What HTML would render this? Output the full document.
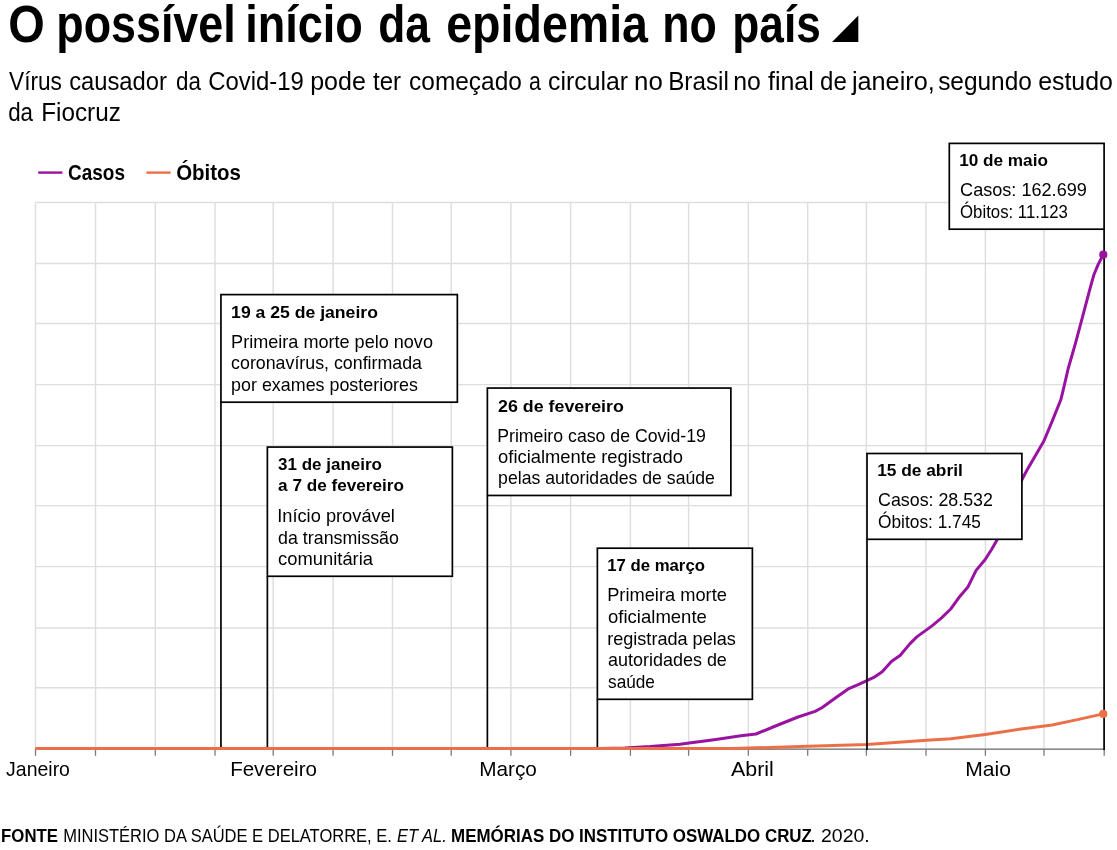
<!DOCTYPE html>
<html lang="pt-BR"><head><meta charset="utf-8"><title>O possível início da epidemia no país</title>
<style>html,body{margin:0;padding:0;background:#fff;}body{width:1117px;height:850px;position:relative;overflow:hidden;font-family:"Liberation Sans",sans-serif;}svg{will-change:transform;}svg g.txt{filter:grayscale(1);}</style>
</head><body>
<svg width="1117" height="850" viewBox="0 0 1117 850" style="position:absolute;left:0;top:0;display:block">
<rect width="1117" height="850" fill="#fff"/>
<g stroke="#dedede" stroke-width="1.45" fill="none">
<line x1="35.50" y1="202.40" x2="35.50" y2="748.90"/>
<line x1="95.50" y1="202.40" x2="95.50" y2="748.90"/>
<line x1="155.30" y1="202.40" x2="155.30" y2="748.90"/>
<line x1="215.00" y1="202.40" x2="215.00" y2="748.90"/>
<line x1="273.20" y1="202.40" x2="273.20" y2="748.90"/>
<line x1="333.10" y1="202.40" x2="333.10" y2="748.90"/>
<line x1="392.50" y1="202.40" x2="392.50" y2="748.90"/>
<line x1="451.20" y1="202.40" x2="451.20" y2="748.90"/>
<line x1="510.90" y1="202.40" x2="510.90" y2="748.90"/>
<line x1="570.60" y1="202.40" x2="570.60" y2="748.90"/>
<line x1="630.40" y1="202.40" x2="630.40" y2="748.90"/>
<line x1="688.60" y1="202.40" x2="688.60" y2="748.90"/>
<line x1="748.30" y1="202.40" x2="748.30" y2="748.90"/>
<line x1="807.70" y1="202.40" x2="807.70" y2="748.90"/>
<line x1="866.40" y1="202.40" x2="866.40" y2="748.90"/>
<line x1="926.00" y1="202.40" x2="926.00" y2="748.90"/>
<line x1="985.40" y1="202.40" x2="985.40" y2="748.90"/>
<line x1="1044.00" y1="202.40" x2="1044.00" y2="748.90"/>
<line x1="1104.20" y1="202.40" x2="1104.20" y2="748.90"/>
<line x1="35.50" y1="202.50" x2="1104.20" y2="202.50"/>
<line x1="35.50" y1="263.50" x2="1104.20" y2="263.50"/>
<line x1="35.50" y1="323.50" x2="1104.20" y2="323.50"/>
<line x1="35.50" y1="384.60" x2="1104.20" y2="384.60"/>
<line x1="35.50" y1="445.60" x2="1104.20" y2="445.60"/>
<line x1="35.50" y1="505.60" x2="1104.20" y2="505.60"/>
<line x1="35.50" y1="566.60" x2="1104.20" y2="566.60"/>
<line x1="35.50" y1="627.90" x2="1104.20" y2="627.90"/>
<line x1="35.50" y1="687.70" x2="1104.20" y2="687.70"/>
<line x1="35.50" y1="748.60" x2="1104.20" y2="748.60"/>
</g>
<line x1="35.50" y1="749.2" x2="1104.20" y2="749.2" stroke="#8a8a8a" stroke-width="1.4"/>
<g stroke="#7a7a7a" stroke-width="1.3">
<line x1="35.50" y1="749" x2="35.50" y2="755.8"/>
<line x1="95.50" y1="749" x2="95.50" y2="755.8"/>
<line x1="155.30" y1="749" x2="155.30" y2="755.8"/>
<line x1="215.00" y1="749" x2="215.00" y2="755.8"/>
<line x1="273.20" y1="749" x2="273.20" y2="755.8"/>
<line x1="333.10" y1="749" x2="333.10" y2="755.8"/>
<line x1="392.50" y1="749" x2="392.50" y2="755.8"/>
<line x1="451.20" y1="749" x2="451.20" y2="755.8"/>
<line x1="510.90" y1="749" x2="510.90" y2="755.8"/>
<line x1="570.60" y1="749" x2="570.60" y2="755.8"/>
<line x1="630.40" y1="749" x2="630.40" y2="755.8"/>
<line x1="688.60" y1="749" x2="688.60" y2="755.8"/>
<line x1="748.30" y1="749" x2="748.30" y2="755.8"/>
<line x1="807.70" y1="749" x2="807.70" y2="755.8"/>
<line x1="866.40" y1="749" x2="866.40" y2="755.8"/>
<line x1="926.00" y1="749" x2="926.00" y2="755.8"/>
<line x1="985.40" y1="749" x2="985.40" y2="755.8"/>
<line x1="1044.00" y1="749" x2="1044.00" y2="755.8"/>
<line x1="1104.20" y1="749" x2="1104.20" y2="755.8"/>
</g>
<g stroke="#000" stroke-width="1.7">
<line x1="220.95" y1="402.25" x2="220.95" y2="748"/>
<line x1="267.37" y1="576.3" x2="267.37" y2="748"/>
<line x1="487.37" y1="495.45" x2="487.37" y2="748"/>
<line x1="597.37" y1="699.26" x2="597.37" y2="748"/>
</g>
<path d="M560.0,748.5 L600.0,748.4 L625.0,748.0 L650.1,746.6 L680.2,744.2 L687.3,743.3 L714.1,739.8 L741.0,735.7 L756.0,734.0 L775.5,726.0 L798.0,717.0 L815.1,711.4 L821.9,707.7 L835.7,697.7 L848.2,688.9 L858.2,684.6 L867.4,680.4 L873.8,677.4 L882.2,671.7 L891.4,661.5 L900.3,655.2 L909.8,643.9 L916.8,636.9 L932.0,625.9 L941.6,617.9 L950.7,609.0 L959.6,596.7 L968.1,586.7 L976.1,570.4 L985.0,559.8 L991.4,549.7 L997.3,539.5 L1010.0,503.0 L1022.4,478.8 L1026.9,470.3 L1043.9,441.0 L1052.3,420.9 L1060.8,399.8 L1063.9,387.1 L1068.2,368.5 L1075.3,343.8 L1082.4,317.4 L1089.4,290.9 L1093.8,275.0 L1098.2,264.4 L1103.2,254.7" fill="none" stroke="#9912a0" stroke-width="3" stroke-linejoin="round" stroke-linecap="round"/>
<path d="M35.2,748.5 L732.0,748.5 L808.0,746.3 L866.9,744.4 L926.7,740.2 L950.9,738.8 L985.4,734.4 L1021.1,729.1 L1052.1,725.0 L1076.3,719.9 L1103.2,713.9" fill="none" stroke="#eb7048" stroke-width="3" stroke-linejoin="round" stroke-linecap="butt"/>
<g stroke="#000" stroke-width="1.7">
<line x1="867.0" y1="539.25" x2="867.0" y2="750"/>
<line x1="1104.1" y1="229.2" x2="1104.1" y2="750"/>
</g>
<circle cx="1103.3" cy="254.7" r="4.1" fill="#9912a0"/>
<circle cx="1103.3" cy="713.9" r="4.1" fill="#eb7048"/>
<g stroke="#000" stroke-width="1.7" fill="#fff">
<rect x="220.95" y="294.6" width="236.4" height="107.6"/>
<rect x="267.37" y="447.07" width="185.0" height="129.2"/>
<rect x="487.37" y="388.07" width="243.5" height="107.4"/>
<rect x="597.37" y="548.2" width="155.0" height="151.1"/>
<rect x="867.0" y="453.5" width="154.9" height="85.8"/>
<rect x="949.3" y="143.4" width="154.8" height="85.8"/>
</g>
<line x1="38.2" y1="172.6" x2="62.4" y2="172.6" stroke="#9912a0" stroke-width="2.4"/>
<line x1="146.4" y1="172.6" x2="170.6" y2="172.6" stroke="#eb7048" stroke-width="2.4"/>
<path d="M832.1,41.9 L858.3,41.9 L858.3,15.4 Z" fill="#000"/>
<g class="txt" font-family="'Liberation Sans', sans-serif" fill="#000">
<text id="t0" x="8.2" y="42.0" font-size="51" font-weight="bold" font-style="normal" stroke="#fff" stroke-width="0" textLength="36.55" lengthAdjust="spacingAndGlyphs">O</text>
<text id="t1" x="56.36" y="42.0" font-size="51" font-weight="bold" font-style="normal" stroke="#fff" stroke-width="0" textLength="179.3" lengthAdjust="spacingAndGlyphs">possível</text>
<text id="t2" x="245.31" y="42.0" font-size="51" font-weight="bold" font-style="normal" stroke="#fff" stroke-width="0" textLength="117.54" lengthAdjust="spacingAndGlyphs">início</text>
<text id="t3" x="378.23" y="42.0" font-size="51" font-weight="bold" font-style="normal" stroke="#fff" stroke-width="0" textLength="51.76" lengthAdjust="spacingAndGlyphs">da</text>
<text id="t4" x="446.24" y="42.0" font-size="51" font-weight="bold" font-style="normal" stroke="#fff" stroke-width="0" textLength="201.78" lengthAdjust="spacingAndGlyphs">epidemia</text>
<text id="t5" x="662.28" y="42.0" font-size="51" font-weight="bold" font-style="normal" stroke="#fff" stroke-width="0" textLength="54.56" lengthAdjust="spacingAndGlyphs">no</text>
<text id="t6" x="732.35" y="42.0" font-size="51" font-weight="bold" font-style="normal" stroke="#fff" stroke-width="0" textLength="88.45" lengthAdjust="spacingAndGlyphs">país</text>
<text id="t7" x="9.03" y="89.5" font-size="25.5" font-weight="normal" font-style="normal" stroke="#fff" stroke-width="0" textLength="52.89" lengthAdjust="spacingAndGlyphs">Vírus</text>
<text id="t8" x="69.17" y="89.5" font-size="25.5" font-weight="normal" font-style="normal" stroke="#fff" stroke-width="0" textLength="97.8" lengthAdjust="spacingAndGlyphs">causador</text>
<text id="t9" x="176.07" y="89.5" font-size="25.5" font-weight="normal" font-style="normal" stroke="#fff" stroke-width="0" textLength="24.89" lengthAdjust="spacingAndGlyphs">da</text>
<text id="t10" x="208.16" y="89.5" font-size="25.5" font-weight="normal" font-style="normal" stroke="#fff" stroke-width="0" textLength="95.7" lengthAdjust="spacingAndGlyphs">Covid-19</text>
<text id="t11" x="310.21" y="89.5" font-size="25.5" font-weight="normal" font-style="normal" stroke="#fff" stroke-width="0" textLength="55.67" lengthAdjust="spacingAndGlyphs">pode</text>
<text id="t12" x="373.03" y="89.5" font-size="25.5" font-weight="normal" font-style="normal" stroke="#fff" stroke-width="0" textLength="27.96" lengthAdjust="spacingAndGlyphs">ter</text>
<text id="t13" x="409.09" y="89.5" font-size="25.5" font-weight="normal" font-style="normal" stroke="#fff" stroke-width="0" textLength="112.78" lengthAdjust="spacingAndGlyphs">começado</text>
<text id="t14" x="529.05" y="89.5" font-size="25.5" font-weight="normal" font-style="normal" stroke="#fff" stroke-width="0" textLength="11.88" lengthAdjust="spacingAndGlyphs">a</text>
<text id="t15" x="548.08" y="89.5" font-size="25.5" font-weight="normal" font-style="normal" stroke="#fff" stroke-width="0" textLength="79.89" lengthAdjust="spacingAndGlyphs">circular</text>
<text id="t16" x="634.13" y="89.5" font-size="25.5" font-weight="normal" font-style="normal" stroke="#fff" stroke-width="0" textLength="28.7" lengthAdjust="spacingAndGlyphs">no</text>
<text id="t17" x="668.19" y="89.5" font-size="25.5" font-weight="normal" font-style="normal" stroke="#fff" stroke-width="0" textLength="60.59" lengthAdjust="spacingAndGlyphs">Brasil</text>
<text id="t18" x="733.2" y="89.5" font-size="25.5" font-weight="normal" font-style="normal" stroke="#fff" stroke-width="0" textLength="27.64" lengthAdjust="spacingAndGlyphs">no</text>
<text id="t19" x="768.01" y="89.5" font-size="25.5" font-weight="normal" font-style="normal" stroke="#fff" stroke-width="0" textLength="45.79" lengthAdjust="spacingAndGlyphs">final</text>
<text id="t20" x="820.1" y="89.5" font-size="25.5" font-weight="normal" font-style="normal" stroke="#fff" stroke-width="0" textLength="26.72" lengthAdjust="spacingAndGlyphs">de</text>
<text id="t21" x="851.92" y="89.5" font-size="25.5" font-weight="normal" font-style="normal" stroke="#fff" stroke-width="0" textLength="82.81" lengthAdjust="spacingAndGlyphs">janeiro,</text>
<text id="t22" x="938.17" y="89.5" font-size="25.5" font-weight="normal" font-style="normal" stroke="#fff" stroke-width="0" textLength="93.7" lengthAdjust="spacingAndGlyphs">segundo</text>
<text id="t23" x="1038.15" y="89.5" font-size="25.5" font-weight="normal" font-style="normal" stroke="#fff" stroke-width="0" textLength="74.68" lengthAdjust="spacingAndGlyphs">estudo</text>
<text id="t24" x="8.13" y="121.3" font-size="25.5" font-weight="normal" font-style="normal" stroke="#fff" stroke-width="0" textLength="24.83" lengthAdjust="spacingAndGlyphs">da</text>
<text id="t25" x="41.21" y="121.3" font-size="25.5" font-weight="normal" font-style="normal" stroke="#fff" stroke-width="0" textLength="79.67" lengthAdjust="spacingAndGlyphs">Fiocruz</text>
<text id="t26" x="68.09" y="179.6" font-size="21.3" font-weight="bold" font-style="normal" stroke="#fff" stroke-width="0" textLength="56.88" lengthAdjust="spacingAndGlyphs">Casos</text>
<text id="t27" x="176.14" y="179.6" font-size="21.3" font-weight="bold" font-style="normal" stroke="#fff" stroke-width="0" textLength="64.73" lengthAdjust="spacingAndGlyphs">Óbitos</text>
<text id="t28" x="231.11" y="317.6" font-size="17.4" font-weight="bold" font-style="normal" stroke="#fff" stroke-width="0" textLength="146.8" lengthAdjust="spacingAndGlyphs">19 a 25 de janeiro</text>
<text id="t29" x="231.11" y="347.8" font-size="17.8" font-weight="normal" font-style="normal" stroke="#fff" stroke-width="0" textLength="201.86" lengthAdjust="spacingAndGlyphs">Primeira morte pelo novo</text>
<text id="t30" x="231.11" y="369.3" font-size="17.8" font-weight="normal" font-style="normal" stroke="#fff" stroke-width="0" textLength="190.87" lengthAdjust="spacingAndGlyphs">coronavírus, confirmada</text>
<text id="t31" x="231.11" y="390.9" font-size="17.8" font-weight="normal" font-style="normal" stroke="#fff" stroke-width="0" textLength="186.81" lengthAdjust="spacingAndGlyphs">por exames posteriores</text>
<text id="t32" x="278.11" y="470.3" font-size="17.4" font-weight="bold" font-style="normal" stroke="#fff" stroke-width="0" textLength="103.79" lengthAdjust="spacingAndGlyphs">31 de janeiro</text>
<text id="t33" x="278.11" y="491.4" font-size="17.4" font-weight="bold" font-style="normal" stroke="#fff" stroke-width="0" textLength="125.8" lengthAdjust="spacingAndGlyphs">a 7 de fevereiro</text>
<text id="t34" x="277.21" y="521.9" font-size="17.8" font-weight="normal" font-style="normal" stroke="#fff" stroke-width="0" textLength="117.67" lengthAdjust="spacingAndGlyphs">Início provável</text>
<text id="t35" x="278.11" y="543.5" font-size="17.8" font-weight="normal" font-style="normal" stroke="#fff" stroke-width="0" textLength="120.78" lengthAdjust="spacingAndGlyphs">da transmissão</text>
<text id="t36" x="278.11" y="565.1" font-size="17.8" font-weight="normal" font-style="normal" stroke="#fff" stroke-width="0" textLength="94.9" lengthAdjust="spacingAndGlyphs">comunitária</text>
<text id="t37" x="498.09" y="411.5" font-size="17.4" font-weight="bold" font-style="normal" stroke="#fff" stroke-width="0" textLength="125.8" lengthAdjust="spacingAndGlyphs">26 de fevereiro</text>
<text id="t38" x="497.19" y="441.5" font-size="17.8" font-weight="normal" font-style="normal" stroke="#fff" stroke-width="0" textLength="208.67" lengthAdjust="spacingAndGlyphs">Primeiro caso de Covid-19</text>
<text id="t39" x="498.09" y="462.7" font-size="17.8" font-weight="normal" font-style="normal" stroke="#fff" stroke-width="0" textLength="184.8" lengthAdjust="spacingAndGlyphs">oficialmente registrado</text>
<text id="t40" x="498.09" y="484.3" font-size="17.8" font-weight="normal" font-style="normal" stroke="#fff" stroke-width="0" textLength="216.84" lengthAdjust="spacingAndGlyphs">pelas autoridades de saúde</text>
<text id="t41" x="607.17" y="571.4" font-size="17.4" font-weight="bold" font-style="normal" stroke="#fff" stroke-width="0" textLength="97.79" lengthAdjust="spacingAndGlyphs">17 de março</text>
<text id="t42" x="607.17" y="601.3" font-size="17.8" font-weight="normal" font-style="normal" stroke="#fff" stroke-width="0" textLength="119.77" lengthAdjust="spacingAndGlyphs">Primeira morte</text>
<text id="t43" x="608.07" y="622.8" font-size="17.8" font-weight="normal" font-style="normal" stroke="#fff" stroke-width="0" textLength="98.8" lengthAdjust="spacingAndGlyphs">oficialmente</text>
<text id="t44" x="607.17" y="644.5" font-size="17.8" font-weight="normal" font-style="normal" stroke="#fff" stroke-width="0" textLength="128.72" lengthAdjust="spacingAndGlyphs">registrada pelas</text>
<text id="t45" x="608.07" y="665.9" font-size="17.8" font-weight="normal" font-style="normal" stroke="#fff" stroke-width="0" textLength="118.81" lengthAdjust="spacingAndGlyphs">autoridades de</text>
<text id="t46" x="608.07" y="687.5" font-size="17.8" font-weight="normal" font-style="normal" stroke="#fff" stroke-width="0" textLength="46.87" lengthAdjust="spacingAndGlyphs">saúde</text>
<text id="t47" x="877.15" y="476.4" font-size="17.4" font-weight="bold" font-style="normal" stroke="#fff" stroke-width="0" textLength="85.68" lengthAdjust="spacingAndGlyphs">15 de abril</text>
<text id="t48" x="878.05" y="506.4" font-size="17.8" font-weight="normal" font-style="normal" stroke="#fff" stroke-width="0" textLength="114.89" lengthAdjust="spacingAndGlyphs">Casos: 28.532</text>
<text id="t49" x="878.05" y="528.3" font-size="17.8" font-weight="normal" font-style="normal" stroke="#fff" stroke-width="0" textLength="102.88" lengthAdjust="spacingAndGlyphs">Óbitos: 1.745</text>
<text id="t50" x="959.17" y="166.4" font-size="17.4" font-weight="bold" font-style="normal" stroke="#fff" stroke-width="0" textLength="88.74" lengthAdjust="spacingAndGlyphs">10 de maio</text>
<text id="t51" x="960.07" y="196.3" font-size="17.8" font-weight="normal" font-style="normal" stroke="#fff" stroke-width="0" textLength="126.79" lengthAdjust="spacingAndGlyphs">Casos: 162.699</text>
<text id="t52" x="960.07" y="217.8" font-size="17.8" font-weight="normal" font-style="normal" stroke="#fff" stroke-width="0" textLength="107.85" lengthAdjust="spacingAndGlyphs">Óbitos: 11.123</text>
<text id="t53" x="6.1" y="775.9" font-size="20.8" font-weight="normal" font-style="normal" stroke="#fff" stroke-width="0" textLength="63.85" lengthAdjust="spacingAndGlyphs">Janeiro</text>
<text id="t54" x="230.13" y="775.9" font-size="20.8" font-weight="normal" font-style="normal" stroke="#fff" stroke-width="0" textLength="86.8" lengthAdjust="spacingAndGlyphs">Fevereiro</text>
<text id="t55" x="479.2" y="775.9" font-size="20.8" font-weight="normal" font-style="normal" stroke="#fff" stroke-width="0" textLength="57.72" lengthAdjust="spacingAndGlyphs">Março</text>
<text id="t56" x="731.0" y="775.9" font-size="20.8" font-weight="normal" font-style="normal" stroke="#fff" stroke-width="0" textLength="42.84" lengthAdjust="spacingAndGlyphs">Abril</text>
<text id="t57" x="965.19" y="775.9" font-size="20.8" font-weight="normal" font-style="normal" stroke="#fff" stroke-width="0" textLength="45.69" lengthAdjust="spacingAndGlyphs">Maio</text>
<text id="t58" x="1.11" y="841.9" font-size="18.5" font-weight="bold" font-style="normal" stroke="#fff" stroke-width="0" textLength="56.86" lengthAdjust="spacingAndGlyphs">FONTE</text>
<text id="t59" x="63.13" y="841.9" font-size="18.5" font-weight="normal" font-style="normal" stroke="#fff" stroke-width="0" textLength="328.75" lengthAdjust="spacingAndGlyphs">MINISTÉRIO DA SAÚDE E DELATORRE, E.</text>
<text id="t60" x="397.1" y="841.9" font-size="18.5" font-weight="normal" font-style="italic" stroke="#fff" stroke-width="0" textLength="49.64" lengthAdjust="spacingAndGlyphs">ET AL.</text>
<text id="t61" x="451.12" y="841.9" font-size="18.5" font-weight="bold" font-style="normal" stroke="#fff" stroke-width="0" textLength="360.83" lengthAdjust="spacingAndGlyphs">MEMÓRIAS DO INSTITUTO OSWALDO CRUZ</text>
<text id="t62" x="810.18" y="841.9" font-size="18.5" font-weight="normal" font-style="normal" stroke="#fff" stroke-width="0" textLength="59.62" lengthAdjust="spacingAndGlyphs">. 2020.</text>
</g>
</svg>
</body></html>
